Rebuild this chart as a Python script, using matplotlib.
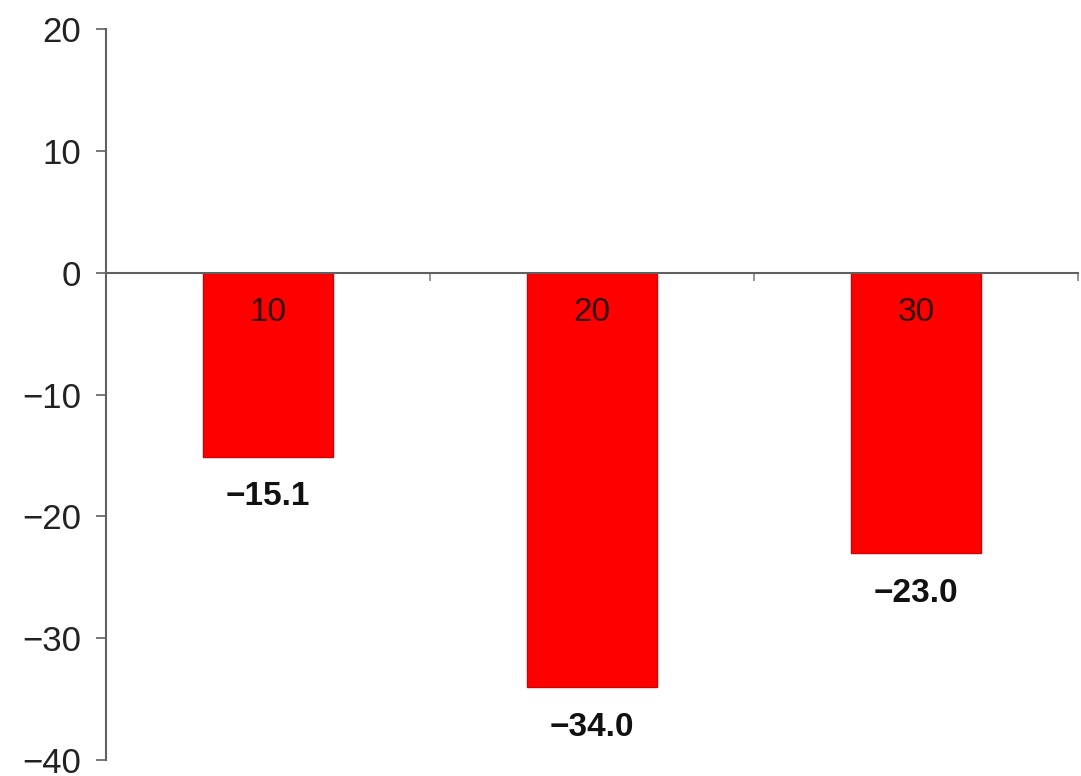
import matplotlib.pyplot as plt

categories = ['10', '20', '30']
values = [-15.1, -34.0, -23.0]
y_ticks = [-40, -30, -20, -10, 0, 10, 20]

plt.rcParams['font.family'] = ['Liberation Sans', 'DejaVu Sans']

fig = plt.figure(figsize=(10.81, 7.76), dpi=100)
ax = fig.add_axes([0.098, 0.0206, 0.899, 0.942])

pos = range(len(categories))
ax.bar(pos, values, width=0.4, color='#ff0000', edgecolor='#d40000', linewidth=1, zorder=2)

ax.set_xlim(-0.5, 2.5)
ax.set_ylim(-40, 20)
ax.set_yticks(y_ticks)
ax.set_yticklabels([str(t).replace('-', '\u2212') for t in y_ticks])

# boundaries between categories get the tick marks on the zero line
ax.set_xticks([0.5, 1.5, 2.5])
ax.set_xticklabels([])

for side in ['top', 'right']:
    ax.spines[side].set_visible(False)
ax.spines['bottom'].set_position(('data', 0))
for side in ['left', 'bottom']:
    ax.spines[side].set_color('#606060')
    ax.spines[side].set_linewidth(1.5)
    ax.spines[side].set_zorder(3)

ax.tick_params(axis='y', direction='out', length=7, width=1.2, color='#606060',
               labelsize=25, pad=11, labelcolor='#222222')
ax.tick_params(axis='x', direction='out', length=6, width=1.2, color='#808080')

for i, (cat, val) in enumerate(zip(categories, values)):
    # category name sits just under the zero line, inside the bar
    ax.annotate(cat, xy=(i, 0), xytext=(0, -29), textcoords='offset points',
                ha='center', va='center', fontsize=24, color='#301010', zorder=4)
    ax.annotate(f'{val:.1f}'.replace('-', '\u2212'), xy=(i, val), xytext=(0, -29),
                textcoords='offset points', ha='center', va='center',
                fontsize=24, fontweight='bold', color='#111111')

fig.savefig('out.png', dpi=100)
